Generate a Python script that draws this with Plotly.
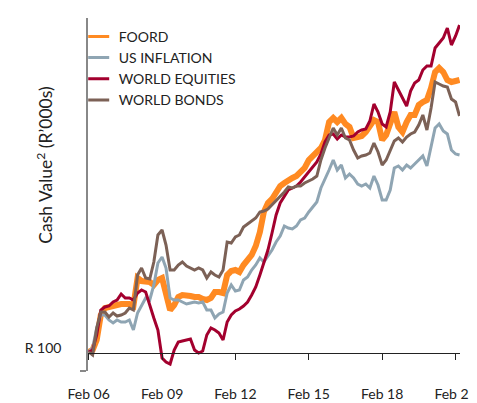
import pandas as pd
import plotly.graph_objects as go

# bi-monthly observations, Feb 2006 .. Apr 2021
dates = pd.date_range("2006-02-01", periods=92, freq="2MS")

foord = [102,106,126,176,190,192,194,198,198,198,198,194,250,244,244,242,236,246,250,222,
         186,196,212,216,216,214,212,212,208,206,210,222,222,220,256,264,266,262,276,288,
         296,314,342,382,400,408,422,434,440,446,450,454,462,470,486,494,502,510,526,562,
         570,562,570,558,552,530,532,534,542,554,566,562,526,536,562,582,552,542,562,576,
         576,596,602,606,630,662,670,662,646,642,644,646]

us_inflation = [102,110,150,176,176,166,160,166,162,162,166,146,180,196,210,206,236,280,292,270,
                210,206,206,202,198,200,202,200,202,186,186,170,178,182,220,236,224,226,246,252,
                266,276,290,282,294,306,322,334,354,350,348,354,366,370,382,392,402,430,450,466,
                486,466,476,450,458,450,438,434,438,430,454,436,406,406,426,470,474,466,476,470,
                478,486,494,474,510,550,558,544,538,506,498,496]

world_equities = [102,106,136,186,192,194,202,206,218,210,210,206,220,226,222,194,170,146,90,82,
                  78,106,122,124,126,128,106,100,104,136,150,146,140,126,162,176,184,188,194,202,
                  216,232,256,282,306,340,376,400,412,426,430,434,442,452,460,470,482,498,522,536,
                  538,528,536,532,532,534,542,546,548,564,598,582,558,552,582,642,626,610,594,624,
                  640,646,666,674,674,710,720,730,750,716,734,756]

world_bonds = [102,96,150,182,182,172,180,174,176,180,190,186,256,270,250,248,282,336,346,316,
               266,266,276,282,274,270,266,270,266,250,262,256,252,266,322,320,332,336,352,358,
               364,370,382,384,388,396,404,412,422,432,430,434,434,440,444,448,454,486,510,530,
               550,536,550,530,526,506,490,494,496,500,520,502,476,486,506,524,530,522,532,538,
               542,556,576,546,590,642,638,634,632,608,602,574]

names = ["FOORD", "US INFLATION", "WORLD EQUITIES", "WORLD BONDS"]
colors = ["#FF8A22", "#8FA5B3", "#A3002E", "#7C6156"]
widths = [6, 3, 3, 3]
series = [foord, us_inflation, world_equities, world_bonds]

fig = go.Figure()
for name, vals, col, w in zip(names, series, colors, widths):
    fig.add_trace(go.Scatter(x=dates, y=vals, mode="lines", name=name,
                             line=dict(color=col, width=w), showlegend=False))
# legend entries (short line keys)
for name, col in zip(names, colors):
    fig.add_trace(go.Scatter(x=[None], y=[None], mode="markers", name=name,
                             marker=dict(symbol="line-ew", size=15,
                                         line=dict(color=col, width=3))))

FONT = "Lato, 'Open Sans', sans-serif"
y_lo, y_hi = 64, 770
fig.update_layout(
    width=477, height=395,
    margin=dict(l=80, r=25, t=10, b=32, autoexpand=False),
    plot_bgcolor="white", paper_bgcolor="white",
    font=dict(family=FONT, size=14, color="#222"),
    legend=dict(x=-0.025, y=0.992, xanchor="left", yanchor="top",
                bgcolor="rgba(0,0,0,0)",
                font=dict(size=14, color="#222", family=FONT),
                itemsizing="trace"),
    xaxis=dict(type="date", range=["2006-01-22", "2021-04-08"], automargin=False,
               anchor="free", position=(100 - y_lo) / (y_hi - y_lo),
               showline=True, linecolor="#222", linewidth=1,
               ticks="outside", ticklen=6, tickcolor="#222",
               tick0="2006-02-01", dtick="M36", tickformat="%b %y",
               ticklabelstandoff=22, ticklabeloverflow="allow",
               showgrid=False, zeroline=False,
               tickfont=dict(size=14, color="#222")),
    yaxis=dict(range=[y_lo, y_hi], automargin=False,
               showline=True, linecolor="#888", linewidth=1.5,
               showgrid=False, zeroline=False,
               tickvals=[100], ticktext=["R 100"],
               ticks="outside", ticklen=22, tickcolor="rgba(0,0,0,0)",
               ticklabelshift=-5,
               minor=dict(tickvals=[y_lo], ticks="outside", ticklen=6,
                          tickcolor="#888", tickwidth=1.5),
               tickfont=dict(size=14, color="#222")),
    annotations=[dict(text="Cash Value<sup>2</sup> (R\u2019000s)", xref="paper", yref="paper",
                      x=-0.116, y=0.584, xanchor="center", yanchor="middle",
                      textangle=-90, showarrow=False,
                      font=dict(size=17.5, color="#222", family=FONT))],
)
fig.write_html("out.html")
